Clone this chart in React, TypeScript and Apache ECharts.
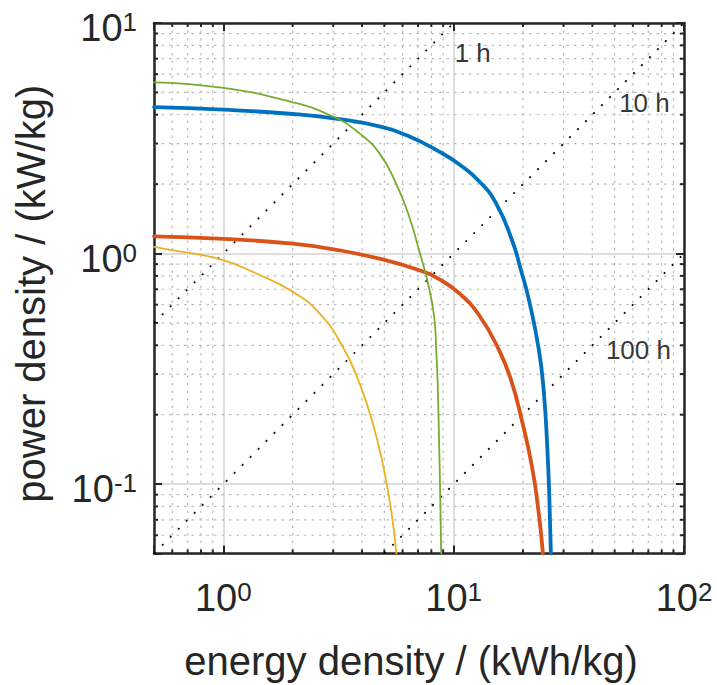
import React, { useEffect, useRef } from "react";
import * as echarts from "echarts";

// ---- data (energy density kWh/kg, power density kW/kg)
const blueE = [0.5, 1, 2, 3.19, 4.76, 6.42, 8.65, 10.56, 12.9, 15.28, 17.92, 19.6, 21.23, 23.45, 24.65, 25.52, 26.04, 26.43];
const blueP = [4.32, 4.21, 4.03, 3.83, 3.56, 3.22, 2.77, 2.44, 2.06, 1.651, 1.142, 0.847, 0.628, 0.381, 0.248, 0.141, 0.0855, 0.05];

const redE = [0.5, 1, 2, 3.19, 4.76, 7.09, 8.65, 10.56, 12.9, 15.74, 17.74, 19.6, 21.88, 23.45, 24.4];
const redP = [1.188, 1.159, 1.103, 1.033, 0.95, 0.847, 0.774, 0.673, 0.54, 0.381, 0.283, 0.196, 0.119, 0.0736, 0.05];

const yellowE = [0.5, 0.606, 0.966, 1.392, 2.005, 2.617, 3.3, 3.9, 4.45, 4.92, 5.35, 5.64];
const yellowP = [1.07, 1.033, 0.945, 0.819, 0.682, 0.55, 0.394, 0.274, 0.184, 0.123, 0.0774, 0.05];

const greenE = [0.5, 1, 2, 3.04, 3.9, 4.76, 5.62, 6.42, 7.21, 7.68, 8.23, 8.4, 8.52, 8.65, 8.74, 8.83];
const greenP = [5.53, 5.23, 4.53, 3.9, 3.32, 2.72, 2.015, 1.44, 0.967, 0.766, 0.532, 0.381, 0.275, 0.148, 0.09, 0.05];

// constant-time reference lines (endpoints)
const line1hE = [0.5, 10];
const line1hP = [0.5, 10];
const line10hE = [0.5, 100];
const line10hP = [0.05, 10];
const line100hE = [5, 100];
const line100hP = [0.05, 1];

const hourLabels = ["1 h", "10 h", "100 h"];
const hourLabelE = [10.1, 52.3, 45.8];
const hourLabelP = [7.4, 4.5, 0.381];

const xMinor = [0.6, 0.7, 0.8, 0.9, 2, 3, 4, 5, 6, 7, 8, 9, 20, 30, 40, 50, 60, 70, 80, 90];
const yMinor = [0.06, 0.07, 0.08, 0.09, 0.2, 0.3, 0.4, 0.5, 0.6, 0.7, 0.8, 0.9, 2, 3, 4, 5, 6, 7, 8, 9];

const xMin = 0.5, xMax = 100, yMin = 0.05, yMax = 10;

const xTitle = "energy density / (kWh/kg)";
const yTitle = "power density / (kW/kg)";

const FONT = "'Liberation Sans', Arial, Helvetica, sans-serif";
const TXT = "#262626";
const AX = "#262626";

const zip = (a: number[], b: number[]) => a.map((v, i) => [v, b[i]]);

const isPow10 = (v: number) => {
  const l = Math.log10(v);
  return Math.abs(l - Math.round(l)) < 1e-6;
};
const fmt = (v: number) => (isPow10(v) ? `{m|10}{s|${Math.round(Math.log10(v))}}` : "");

const rich = {
  m: { fontSize: 38, lineHeight: 38, fontFamily: FONT, color: TXT, verticalAlign: "bottom" },
  s: { fontSize: 26, lineHeight: 26, padding: [0, 0, 20, 0], fontFamily: FONT, color: TXT, verticalAlign: "top" },
};

function baseAxis(extra: any) {
  return {
    type: "log",
    logBase: 10,
    axisLine: { show: true, onZero: false, lineStyle: { color: AX, width: 2.5 } },
    axisTick: { show: true, inside: true, length: 8, lineStyle: { color: AX, width: 2 } },
    minorTick: { show: false },
    splitLine: { show: false },
    minorSplitLine: { show: false },
    axisLabel: { show: false },
    ...extra,
  };
}

export default function App() {
  const ref = useRef<HTMLDivElement>(null);

  useEffect(() => {
    if (!ref.current) return;
    const chart = echarts.init(ref.current, undefined, { renderer: "svg" });

    const dotted = (e: number[], p: number[]) => ({
      type: "line",
      data: zip(e, p),
      showSymbol: false,
      silent: true,
      z: 2,
      lineStyle: { color: "#000", width: 1.7, type: [2, 9.3] },
    });
    const curve = (e: number[], p: number[], color: string, width: number, z: number) => ({
      type: "line",
      data: zip(e, p),
      showSymbol: false,
      smooth: 0.5,
      silent: true,
      z,
      lineStyle: { color, width, cap: "round", join: "round" },
    });

    const minorStyle = { stroke: "#bababa", lineWidth: 1.2, lineDash: [2.5, 5] };
    const tickStyle = { stroke: AX, lineWidth: 2 };

    const option: any = {
      animation: false,
      backgroundColor: "#fff",
      grid: { left: 154, top: 23, right: 33, bottom: 131.5, containLabel: false, outerBoundsMode: "none" },
      xAxis: [
        baseAxis({
          position: "bottom",
          min: xMin,
          max: xMax,
          splitLine: { show: true, lineStyle: { color: "#dedede", width: 2 } },
          axisLabel: { show: true, margin: 25, formatter: fmt, rich, showMinLabel: true, showMaxLabel: true },
          name: xTitle,
          nameLocation: "middle",
          nameGap: 87,
          nameTextStyle: { fontSize: 40, fontFamily: FONT, color: TXT, padding: [0, 16, 0, 0] },
        }),
        baseAxis({ position: "top", min: xMin, max: xMax }),
      ],
      yAxis: [
        baseAxis({
          position: "left",
          min: yMin,
          max: yMax,
          splitLine: { show: true, lineStyle: { color: "#dedede", width: 2 } },
          axisLabel: { show: true, margin: 17, formatter: fmt, rich, padding: [10, 0, 0, 0] },
          name: yTitle,
          nameLocation: "middle",
          nameRotate: 90,
          nameGap: 103,
          nameTextStyle: { fontSize: 40, fontFamily: FONT, color: TXT, padding: [0, 11, 0, 0] },
        }),
        baseAxis({ position: "right", min: yMin, max: yMax }),
      ],
      series: [
        {
          type: "custom",
          xAxisIndex: 0,
          yAxisIndex: 0,
          z: 1,
          silent: true,
          data: xMinor.map((v) => [v, 1]),
          renderItem: (params: any, api: any) => {
            const cs = params.coordSys;
            const x = api.coord([api.value(0), api.value(1)])[0];
            const top = cs.y, bottom = cs.y + cs.height;
            return {
              type: "group",
              children: [
                { type: "line", shape: { x1: x, y1: top, x2: x, y2: bottom }, style: minorStyle },
                { type: "line", shape: { x1: x, y1: bottom, x2: x, y2: bottom - 4 }, style: tickStyle },
                { type: "line", shape: { x1: x, y1: top, x2: x, y2: top + 4 }, style: tickStyle },
              ],
            };
          },
        },
        {
          type: "custom",
          xAxisIndex: 0,
          yAxisIndex: 0,
          z: 1,
          silent: true,
          data: yMinor.map((v) => [1, v]),
          renderItem: (params: any, api: any) => {
            const cs = params.coordSys;
            const y = api.coord([api.value(0), api.value(1)])[1];
            const left = cs.x, right = cs.x + cs.width;
            return {
              type: "group",
              children: [
                { type: "line", shape: { x1: left, y1: y, x2: right, y2: y }, style: minorStyle },
                { type: "line", shape: { x1: left, y1: y, x2: left + 4, y2: y }, style: tickStyle },
                { type: "line", shape: { x1: right, y1: y, x2: right - 4, y2: y }, style: tickStyle },
              ],
            };
          },
        },
        dotted(line1hE, line1hP),
        dotted(line10hE, line10hP),
        dotted(line100hE, line100hP),
        curve(blueE, blueP, "#0072BD", 3.8, 3),
        curve(redE, redP, "#D95319", 3.8, 3),
        curve(yellowE, yellowP, "#EDB120", 1.8, 4),
        curve(greenE, greenP, "#77AC30", 1.8, 4),
        {
          type: "scatter",
          symbolSize: 0,
          silent: true,
          z: 5,
          data: hourLabelE.map((e, i) => ({ value: [e, hourLabelP[i]], name: hourLabels[i] })),
          label: {
            show: true,
            position: "right",
            distance: 0,
            formatter: (p: any) => p.name,
            fontSize: 26,
            fontFamily: FONT,
            color: "#000",
            align: "left",
            verticalAlign: "middle",
          },
        },
      ],
    };

    chart.setOption(option);
    return () => chart.dispose();
  }, []);

  return (
    <div
      ref={ref}
      style={{ position: "fixed", left: 0, top: 0, width: 717, height: 685, background: "#fff" }}
    />
  );
}
